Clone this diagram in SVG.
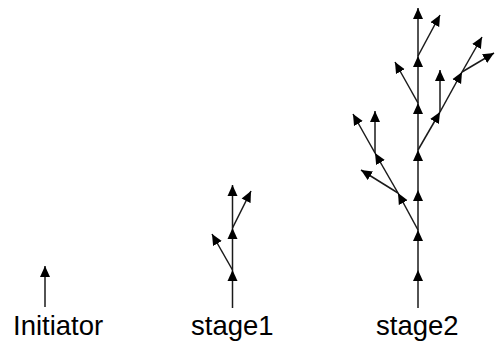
<svg xmlns="http://www.w3.org/2000/svg" width="495" height="345" viewBox="0 0 495 345">
  <style>
    .seg { stroke: #1a1a1a; stroke-width: 1.5; fill: none; marker-end: url(#arrow); }
    .label { font-family: "Liberation Sans", Arial, sans-serif; font-size: 27.5px; fill: #000; }
  </style>
  <defs>
    <marker id="arrow" markerUnits="userSpaceOnUse" markerWidth="12" markerHeight="11" refX="11" refY="5.5" orient="auto" viewBox="0 0 12 11">
      <path d="M0,0.5 L11,5.5 L0,10.5 Z" fill="#000"/>
    </marker>
  </defs>
  <rect width="495" height="345" fill="#fff"/>

  <g id="initiator">
    <g class="connectors">
      <line class="seg" x1="45" y1="307" x2="45" y2="266"/>
    </g>
    <text class="label" x="13" y="335">Initiator</text>
  </g>

  <g id="stage1">
    <g class="connectors">
      <line class="seg" x1="232.5" y1="308" x2="232.5" y2="270"/>
      <line class="seg" x1="232.5" y1="270" x2="212" y2="234"/>
      <line class="seg" x1="232.5" y1="270" x2="232.5" y2="228"/>
      <line class="seg" x1="232.5" y1="228" x2="251" y2="191"/>
      <line class="seg" x1="232.5" y1="228" x2="232.5" y2="185"/>
    </g>
    <text class="label" x="191" y="335">stage1</text>
  </g>

  <g id="stage2">
    <g class="connectors">
      <!-- trunk -->
      <line class="seg" x1="418" y1="308" x2="418" y2="270"/>
      <line class="seg" x1="418" y1="270" x2="418" y2="230"/>
      <line class="seg" x1="418" y1="230" x2="418" y2="190"/>
      <line class="seg" x1="418" y1="190" x2="418" y2="150"/>
      <line class="seg" x1="418" y1="150" x2="418" y2="103"/>
      <line class="seg" x1="418" y1="103" x2="418" y2="56"/>
      <line class="seg" x1="418" y1="56" x2="418" y2="8"/>
      <!-- top branches -->
      <line class="seg" x1="418" y1="103" x2="395" y2="62"/>
      <line class="seg" x1="418" y1="56" x2="440" y2="15"/>
      <!-- left cluster -->
      <line class="seg" x1="418" y1="230" x2="398" y2="193"/>
      <line class="seg" x1="398" y1="193" x2="361" y2="170"/>
      <line class="seg" x1="398" y1="193" x2="375" y2="153"/>
      <line class="seg" x1="375" y1="153" x2="375" y2="111"/>
      <line class="seg" x1="375" y1="153" x2="353" y2="114"/>
      <!-- right cluster -->
      <line class="seg" x1="418" y1="150" x2="440" y2="112"/>
      <line class="seg" x1="440" y1="112" x2="440" y2="70"/>
      <line class="seg" x1="440" y1="112" x2="462" y2="72"/>
      <line class="seg" x1="462" y1="72" x2="494" y2="53"/>
      <line class="seg" x1="462" y1="72" x2="482" y2="37"/>
    </g>
    <text class="label" x="376" y="335">stage2</text>
  </g>
</svg>
